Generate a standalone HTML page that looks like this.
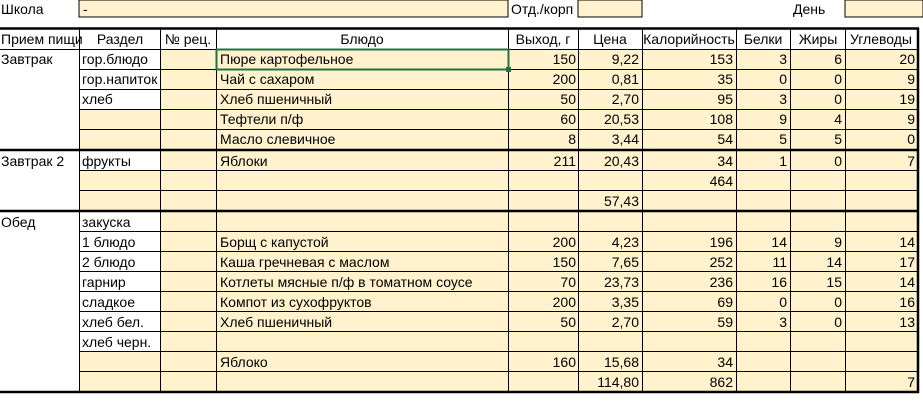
<!DOCTYPE html><html><head><meta charset="utf-8"><style>body{margin:0;background:#fff}svg{display:block}text{font-family:"Liberation Sans","DejaVu Sans",sans-serif;font-size:14px;fill:#000}.r{text-anchor:end}.c{text-anchor:middle}</style></head><body>
<svg width="923" height="419" xmlns="http://www.w3.org/2000/svg">
<rect x="79" y="0" width="429" height="17" fill="#FFF2CC" stroke="#000" stroke-width="1"/>
<rect x="578" y="0" width="64" height="17" fill="#FFF2CC" stroke="#000" stroke-width="1"/>
<rect x="845" y="0" width="78" height="17" fill="#FFF2CC" stroke="#000" stroke-width="1"/>
<text x="1" y="14">Школа</text><text x="83" y="14">-</text><text x="511" y="14">Отд./корп</text><text x="793" y="14">День</text>
<rect x="160" y="49" width="757" height="343" fill="#FFF2CC"/>
<rect x="79" y="109" width="81" height="41" fill="#FFF2CC"/>
<rect x="79" y="170" width="81" height="41" fill="#FFF2CC"/>
<rect x="79" y="351" width="81" height="41" fill="#FFF2CC"/>
<g stroke="#000" stroke-width="1">
<line x1="0" y1="49.5" x2="917" y2="49.5"/>
<line x1="79" y1="69.5" x2="917" y2="69.5"/><line x1="79" y1="89.5" x2="917" y2="89.5"/><line x1="79" y1="109.5" x2="917" y2="109.5"/><line x1="79" y1="129.5" x2="917" y2="129.5"/>
<line x1="79" y1="170.5" x2="917" y2="170.5"/><line x1="79" y1="190.5" x2="917" y2="190.5"/>
<line x1="79" y1="231.5" x2="917" y2="231.5"/><line x1="79" y1="251.5" x2="917" y2="251.5"/><line x1="79" y1="271.5" x2="917" y2="271.5"/><line x1="79" y1="291.5" x2="917" y2="291.5"/><line x1="79" y1="311.5" x2="917" y2="311.5"/><line x1="79" y1="331.5" x2="917" y2="331.5"/><line x1="79" y1="351.5" x2="917" y2="351.5"/><line x1="79" y1="371.5" x2="917" y2="371.5"/>
<line x1="79.5" y1="28" x2="79.5" y2="392"/><line x1="160.5" y1="28" x2="160.5" y2="392"/><line x1="216.5" y1="28" x2="216.5" y2="392"/><line x1="508.5" y1="28" x2="508.5" y2="392"/><line x1="578.5" y1="28" x2="578.5" y2="392"/><line x1="642.5" y1="28" x2="642.5" y2="392"/><line x1="736.5" y1="28" x2="736.5" y2="392"/><line x1="790.5" y1="28" x2="790.5" y2="392"/><line x1="845.5" y1="28" x2="845.5" y2="392"/>
</g>
<g stroke="#000" stroke-width="2.5">
<line x1="0" y1="28.5" x2="919" y2="28.5"/><line x1="0" y1="150" x2="919" y2="150"/><line x1="0" y1="211" x2="919" y2="211"/><line x1="0" y1="392" x2="919" y2="392"/><line x1="918" y1="28" x2="918" y2="393"/>
</g>
<rect x="216.5" y="49.5" width="292" height="20" fill="none" stroke="#217346" stroke-width="2"/>
<rect x="506" y="67" width="5" height="5" fill="#217346"/>
<text x="1" y="44">Прием пищи</text><text class="c" x="120" y="44">Раздел</text><text class="c" x="188" y="44">№ рец.</text><text class="c" x="362" y="44">Блюдо</text><text class="c" x="543" y="44">Выход, г</text><text class="c" x="610" y="44">Цена</text><text class="c" x="689" y="44">Калорийность</text><text class="c" x="763" y="44">Белки</text><text class="c" x="818" y="44">Жиры</text><text class="c" x="881" y="44">Углеводы</text>
<text x="1" y="64">Завтрак</text><text x="82" y="64">гор.блюдо</text><text x="220" y="64">Пюре картофельное</text><text class="r" x="576" y="64">150</text><text class="r" x="639" y="64">9,22</text><text class="r" x="733" y="64">153</text><text class="r" x="787" y="64">3</text><text class="r" x="842" y="64">6</text><text class="r" x="915" y="64">20</text>
<text x="82" y="84">гор.напиток</text><text x="220" y="84">Чай с сахаром</text><text class="r" x="576" y="84">200</text><text class="r" x="639" y="84">0,81</text><text class="r" x="733" y="84">35</text><text class="r" x="787" y="84">0</text><text class="r" x="842" y="84">0</text><text class="r" x="915" y="84">9</text>
<text x="82" y="104">хлеб</text><text x="220" y="104">Хлеб пшеничный</text><text class="r" x="576" y="104">50</text><text class="r" x="639" y="104">2,70</text><text class="r" x="733" y="104">95</text><text class="r" x="787" y="104">3</text><text class="r" x="842" y="104">0</text><text class="r" x="915" y="104">19</text>
<text x="220" y="124">Тефтели п/ф</text><text class="r" x="576" y="124">60</text><text class="r" x="639" y="124">20,53</text><text class="r" x="733" y="124">108</text><text class="r" x="787" y="124">9</text><text class="r" x="842" y="124">4</text><text class="r" x="915" y="124">9</text>
<text x="220" y="144">Масло слевичное</text><text class="r" x="576" y="144">8</text><text class="r" x="639" y="144">3,44</text><text class="r" x="733" y="144">54</text><text class="r" x="787" y="144">5</text><text class="r" x="842" y="144">5</text><text class="r" x="915" y="144">0</text>
<text x="1" y="166">Завтрак 2</text><text x="82" y="166">фрукты</text><text x="220" y="166">Яблоки</text><text class="r" x="576" y="166">211</text><text class="r" x="639" y="166">20,43</text><text class="r" x="733" y="166">34</text><text class="r" x="787" y="166">1</text><text class="r" x="842" y="166">0</text><text class="r" x="915" y="166">7</text>
<text class="r" x="733" y="186">464</text>
<text class="r" x="639" y="206">57,43</text>
<text x="1" y="227">Обед</text><text x="82" y="227">закуска</text>
<text x="82" y="247">1 блюдо</text><text x="220" y="247">Борщ с капустой</text><text class="r" x="576" y="247">200</text><text class="r" x="639" y="247">4,23</text><text class="r" x="733" y="247">196</text><text class="r" x="787" y="247">14</text><text class="r" x="842" y="247">9</text><text class="r" x="915" y="247">14</text>
<text x="82" y="267">2 блюдо</text><text x="220" y="267">Каша гречневая с маслом</text><text class="r" x="576" y="267">150</text><text class="r" x="639" y="267">7,65</text><text class="r" x="733" y="267">252</text><text class="r" x="787" y="267">11</text><text class="r" x="842" y="267">14</text><text class="r" x="915" y="267">17</text>
<text x="82" y="287">гарнир</text><text x="220" y="287">Котлеты мясные п/ф в томатном соусе</text><text class="r" x="576" y="287">70</text><text class="r" x="639" y="287">23,73</text><text class="r" x="733" y="287">236</text><text class="r" x="787" y="287">16</text><text class="r" x="842" y="287">15</text><text class="r" x="915" y="287">14</text>
<text x="82" y="307">сладкое</text><text x="220" y="307">Компот из сухофруктов</text><text class="r" x="576" y="307">200</text><text class="r" x="639" y="307">3,35</text><text class="r" x="733" y="307">69</text><text class="r" x="787" y="307">0</text><text class="r" x="842" y="307">0</text><text class="r" x="915" y="307">16</text>
<text x="82" y="327">хлеб бел.</text><text x="220" y="327">Хлеб пшеничный</text><text class="r" x="576" y="327">50</text><text class="r" x="639" y="327">2,70</text><text class="r" x="733" y="327">59</text><text class="r" x="787" y="327">3</text><text class="r" x="842" y="327">0</text><text class="r" x="915" y="327">13</text>
<text x="82" y="347">хлеб черн.</text>
<text x="220" y="367">Яблоко</text><text class="r" x="576" y="367">160</text><text class="r" x="639" y="367">15,68</text><text class="r" x="733" y="367">34</text>
<text class="r" x="639" y="387">114,80</text><text class="r" x="733" y="387">862</text><text class="r" x="915" y="387">7</text>
</svg></body></html>
